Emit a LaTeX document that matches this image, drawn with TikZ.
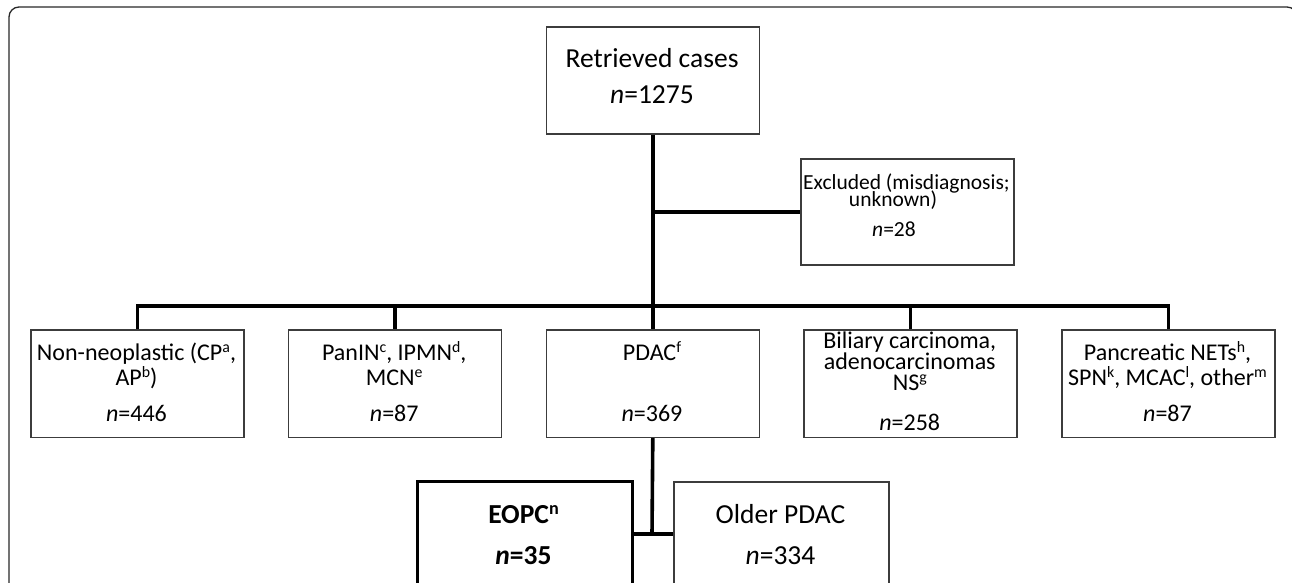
\documentclass[tikz,border=0pt]{standalone}
\usepackage{fontspec}
\usepackage{graphicx}
\setmainfont{Carlito}
\newcommand\fsz[1]{\fontsize{#1}{#1}\selectfont}
\newcommand\sups[1]{\raisebox{0.3em}{\scalebox{0.66}{#1}}}
\definecolor{boxc}{RGB}{60,60,60}
\definecolor{framec}{RGB}{40,40,40}
\begin{document}
\begin{tikzpicture}[x=1pt,y=-1pt,
  box/.style={draw=boxc, line width=1.6pt, minimum width=213pt, minimum height=107.5pt, inner sep=0pt, anchor=north west},
  boldbox/.style={draw=black, line width=3.4pt, minimum width=215pt, minimum height=140pt, inner sep=0pt, anchor=north west},
  thinbox/.style={draw=boxc, line width=1.6pt, minimum width=215pt, minimum height=140pt, inner sep=0pt, anchor=north west},
  conn/.style={draw=black, line width=3.6pt},
  frame/.style={draw=framec, line width=1.3pt, rounded corners=10pt},
  tb/.style={anchor=base, inner sep=0pt, text height=0.62em, text depth=0pt},
  txt/.style={tb, font=\fsz{24}},
  big/.style={tb, font=\fsz{27.5}},
  small/.style={tb, font=\fsz{21.5}}]
\useasboundingbox (0,0) rectangle (1292,583);
\clip (0,0) rectangle (1292,583);
\fill[white] (0,0) rectangle (1292,583);
\draw[frame] (9,7) rectangle (1297,650);

% boxes
\node[box, minimum height=107pt] (ret) at (545.5,26) {};
\node[box, minimum height=106pt] (exc) at (800,158) {};
\node[box] (b1) at (30,329) {};
\node[box] (b2) at (287.75,329) {};
\node[box] (b3) at (545.5,329) {};
\node[box] (b4) at (803.25,329) {};
\node[box] (b5) at (1061,329) {};
\node[boldbox] (eopc) at (416,480) {};
\node[thinbox] (older) at (673,481) {};

% connectors
\coordinate (bar) at (652,306);
\coordinate (jn) at (652,534);
\draw[conn] (ret.south) -- (b3.north);
\draw[conn] (ret.south |- exc.west) -- (exc.west);
\draw[conn] (b1.north) |- (bar) -| (b5.north);
\draw[conn] (b2.north) -- (b2.north |- bar);
\draw[conn] (b4.north) -- (b4.north |- bar);
\draw[conn] (b3.south) -- (jn);
\draw[conn] (eopc.east |- jn) -- (older.west |- jn);

% texts
\node[big] (t-ret1) at (652,68) {Retrieved cases};
\node[big] (t-ret2) at (652,104) {\textit{n}=1275};

\node[small] (t-exc1) at (906.5,189) {Excluded (misdiagnosis;};
\node[small] (t-exc2) at (893,206) {unknown)};
\node[small] (t-exc3) at (894,236) {\textit{n}=28};

\node[txt] (t-b1a) at (136.5,360) {Non-neoplastic (CP\sups{a},};
\node[txt] (t-b1b) at (136.5,385) {AP\sups{b})};
\node[txt] (t-b1c) at (136.5,421) {\textit{n}=446};

\node[txt] (t-b2a) at (394.25,360) {PanIN\sups{c}, IPMN\sups{d},};
\node[txt] (t-b2b) at (394.25,385) {MCN\sups{e}};
\node[txt] (t-b2c) at (394.25,421) {\textit{n}=87};

\node[txt] (t-b3a) at (652,360) {PDAC\sups{f}};
\node[txt] (t-b3c) at (652,421) {\textit{n}=369};

\node[txt] (t-b4a) at (909.75,348) {Biliary carcinoma,};
\node[txt] (t-b4b) at (909.75,369) {adenocarcinomas};
\node[txt] (t-b4c) at (909.75,390) {NS\sups{g}};
\node[txt] (t-b4d) at (909.75,430) {\textit{n}=258};

\node[txt] (t-b5a) at (1167.5,360) {Pancreatic NETs\sups{h},};
\node[txt] (t-b5b) at (1167.5,385) {SPN\sups{k}, MCAC\sups{l}, other\sups{m}};
\node[txt] (t-b5c) at (1167.5,421) {\textit{n}=87};

\node[big] (t-eo1) at (523.5,523) {\textbf{EOPC\sups{n}}};
\node[big] (t-eo2) at (523.5,564) {\textbf{\textit{n}=35}};
\node[big] (t-ol1) at (780.5,523) {Older PDAC};
\node[big] (t-ol2) at (780.5,564) {\textit{n}=334};
\end{tikzpicture}
\end{document}
